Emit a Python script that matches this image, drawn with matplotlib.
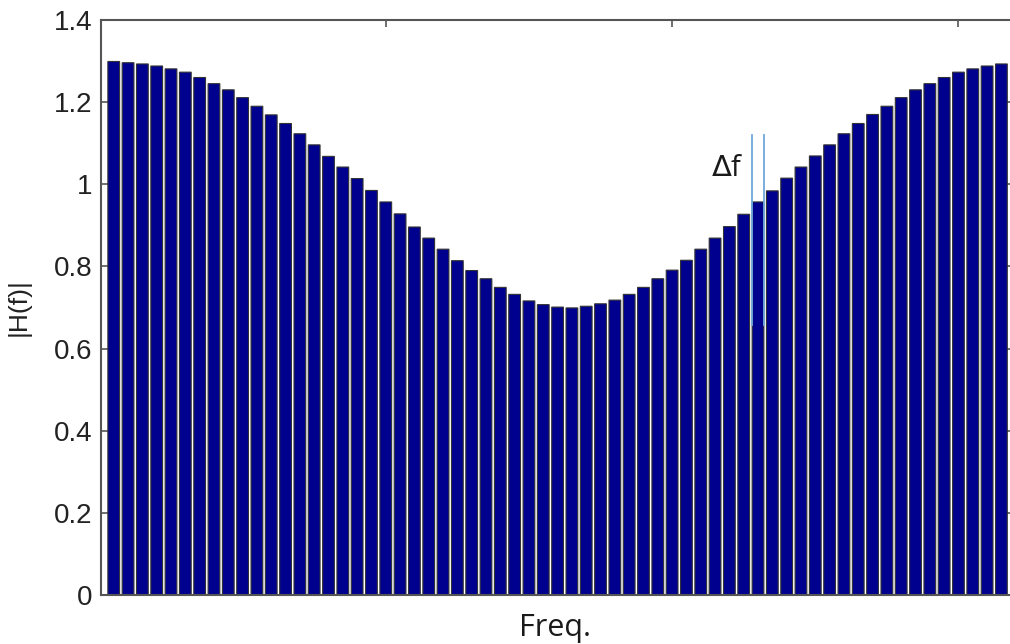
import matplotlib
matplotlib.use('Agg')
import matplotlib.pyplot as plt
import numpy as np

# bar heights |H(f)|, one per frequency bin
H = [1.299, 1.296, 1.293, 1.288, 1.281, 1.273, 1.260, 1.245, 1.230, 1.211,
     1.190, 1.169, 1.148, 1.123, 1.096, 1.068, 1.042, 1.014, 0.985, 0.957,
     0.928, 0.896, 0.869, 0.842, 0.814, 0.790, 0.770, 0.749, 0.732, 0.716,
     0.707, 0.701, 0.699, 0.703, 0.709, 0.718, 0.732, 0.749, 0.770, 0.791,
     0.815, 0.842, 0.869, 0.897, 0.927, 0.957, 0.984, 1.015, 1.042, 1.069,
     1.096, 1.123, 1.148, 1.170, 1.190, 1.211, 1.230, 1.245, 1.260, 1.273,
     1.281, 1.288, 1.293]
freq = np.arange(1, len(H) + 1)

yticks = [0, 0.2, 0.4, 0.6, 0.8, 1.0, 1.2, 1.4]
yticklabels = ['0', '0.2', '0.4', '0.6', '0.8', '1', '1.2', '1.4']
xticks = [20, 40, 60]

delta_bin = 46          # bin marked with the delta-f brackets

plt.rcParams['font.family'] = ['Liberation Sans', 'DejaVu Sans']

fig = plt.figure(figsize=(10.10, 6.44), dpi=100)
ax = fig.add_axes([101 / 1010, 1 - 595 / 644, 1 - 101 / 1010, (595 - 20) / 644])
ax.set_axisbelow(True)

ax.bar(freq, H, width=0.82, color='#00008f', edgecolor='#333333', linewidth=0.8,
       snap=False)

ax.set_xlim(0.11, 63.6)
ax.set_ylim(0, 1.4)
ax.set_yticks(yticks)
ax.set_yticklabels(yticklabels)
ax.set_xticks(xticks)
ax.set_xticklabels([])
ax.tick_params(axis='both', direction='in', length=5, width=1.2, color='#555555',
               labelsize=20, labelcolor='#222222', top=True, right=True, pad=6)
for s in ['left', 'top', 'bottom']:
    ax.spines[s].set_color('#555555')
    ax.spines[s].set_linewidth(1.5)
ax.spines['right'].set_visible(False)

ax.set_ylabel('|H(f)|', fontsize=19, color='#222222', labelpad=17)

# delta-f bracket lines and label
for dx in (-0.42, 0.42):
    ax.plot([delta_bin + dx, delta_bin + dx], [0.657, 1.119], color='#6fa8dc', lw=1.3)
ax.text(delta_bin - 3.3, 1.039, r'$\Delta$f', fontsize=21, color='#1a1a1a',
        va='center', ha='left', family=['Open Sans', 'DejaVu Sans'])

fig.text(555 / 1010, 1 / 644, 'Freq.', fontsize=22, color='#1a1a1a',
         ha='center', va='bottom', family=['Open Sans', 'DejaVu Sans'])

fig.savefig('out.png', dpi=100)
